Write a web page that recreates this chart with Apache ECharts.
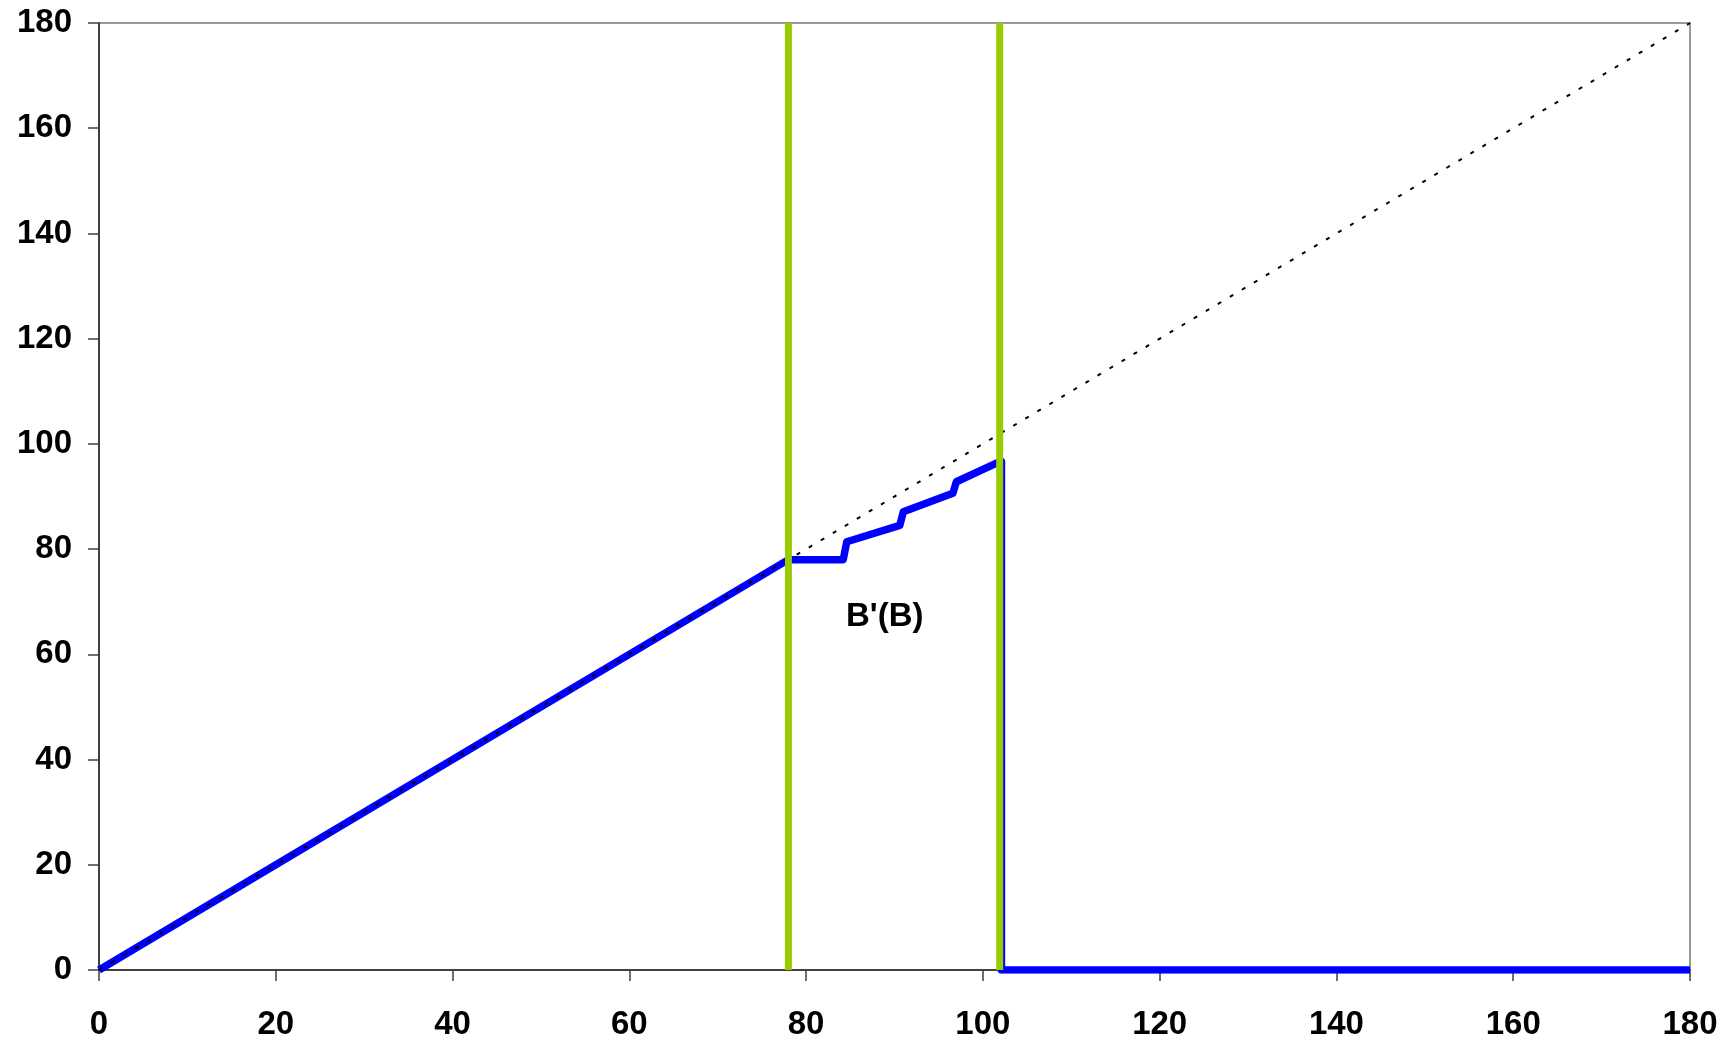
<!DOCTYPE html>
<html>
<head>
<meta charset="utf-8">
<script src="https://cdn.jsdelivr.net/npm/echarts@6/dist/echarts.min.js"></script>
<style>
html,body{margin:0;padding:0;background:#fff;}
#chart{width:1734px;height:1042px;}
</style>
</head>
<body>
<div id="chart"></div>
<script>
// Blue curve B'(B)
var blueX = [0, 78, 84.2, 84.6, 90.6, 91.0, 96.6, 97.0, 101.6, 102.1, 102.1, 180];
var blueY = [0, 78, 78, 81.4, 84.5, 87.1, 90.6, 92.8, 96.4, 96.7, 0, 0];
// Dotted diagonal y = x
var diagX = [0, 180];
var diagY = [0, 180];
// Green vertical markers
var greenX = [78, 101.9];
var greenYRange = [0, 180];
// Label
var labelText = "B'(B)";
var labelPos = [88.9, 67.1];
// Axis ticks
var axisMin = 0, axisMax = 180, axisStep = 20;

var FONT = 'Liberation Sans';

function pairs(xs, ys) { return xs.map(function (x, i) { return [x, ys[i]]; }); }

var series = [
  {
    type: 'line', data: pairs(blueX, blueY), showSymbol: false, symbol: 'none',
    lineStyle: { color: '#0000ff', width: 7.5, join: 'round', cap: 'butt' },
    z: 2, animation: false
  },
  {
    type: 'line', data: pairs(diagX, diagY), showSymbol: false, symbol: 'none',
    lineStyle: { color: '#000000', width: 2, type: [4, 10] },
    z: 3, animation: false
  }
];
greenX.forEach(function (gx) {
  series.push({
    type: 'line', data: [[gx, greenYRange[0]], [gx, greenYRange[1]]], showSymbol: false, symbol: 'none',
    lineStyle: { color: '#99cc00', width: 7 },
    z: 4, animation: false
  });
});
series.push({
  type: 'scatter', data: [labelPos], symbolSize: 0, animation: false, z: 5,
  itemStyle: { opacity: 1 },
  label: { show: true, position: 'inside', formatter: labelText, color: '#000000', opacity: 1, fontFamily: FONT, fontWeight: 'bold', fontSize: 33 }
});

function axisCommon(margin) {
  return {
    type: 'value', min: axisMin, max: axisMax, interval: axisStep,
    axisLine: { show: true, onZero: false, lineStyle: { color: '#404040', width: 2 } },
    axisTick: { show: true, inside: false, length: 11, lineStyle: { color: '#404040', width: 1.5 } },
    splitLine: { show: false },
    axisLabel: { color: '#000000', fontFamily: FONT, fontWeight: 'bold', fontSize: 33, margin: margin }
  };
}

var chart = echarts.init(document.getElementById('chart'), null, { renderer: 'canvas' });
chart.setOption({
  backgroundColor: '#ffffff',
  animation: false,
  grid: { left: 99, top: 23, right: 44, bottom: 72, show: true, borderColor: '#999999', borderWidth: 2, backgroundColor: 'transparent', containLabel: false },
  xAxis: axisCommon(38),
  yAxis: axisCommon(27),
  series: series
});
</script>
</body>
</html>
